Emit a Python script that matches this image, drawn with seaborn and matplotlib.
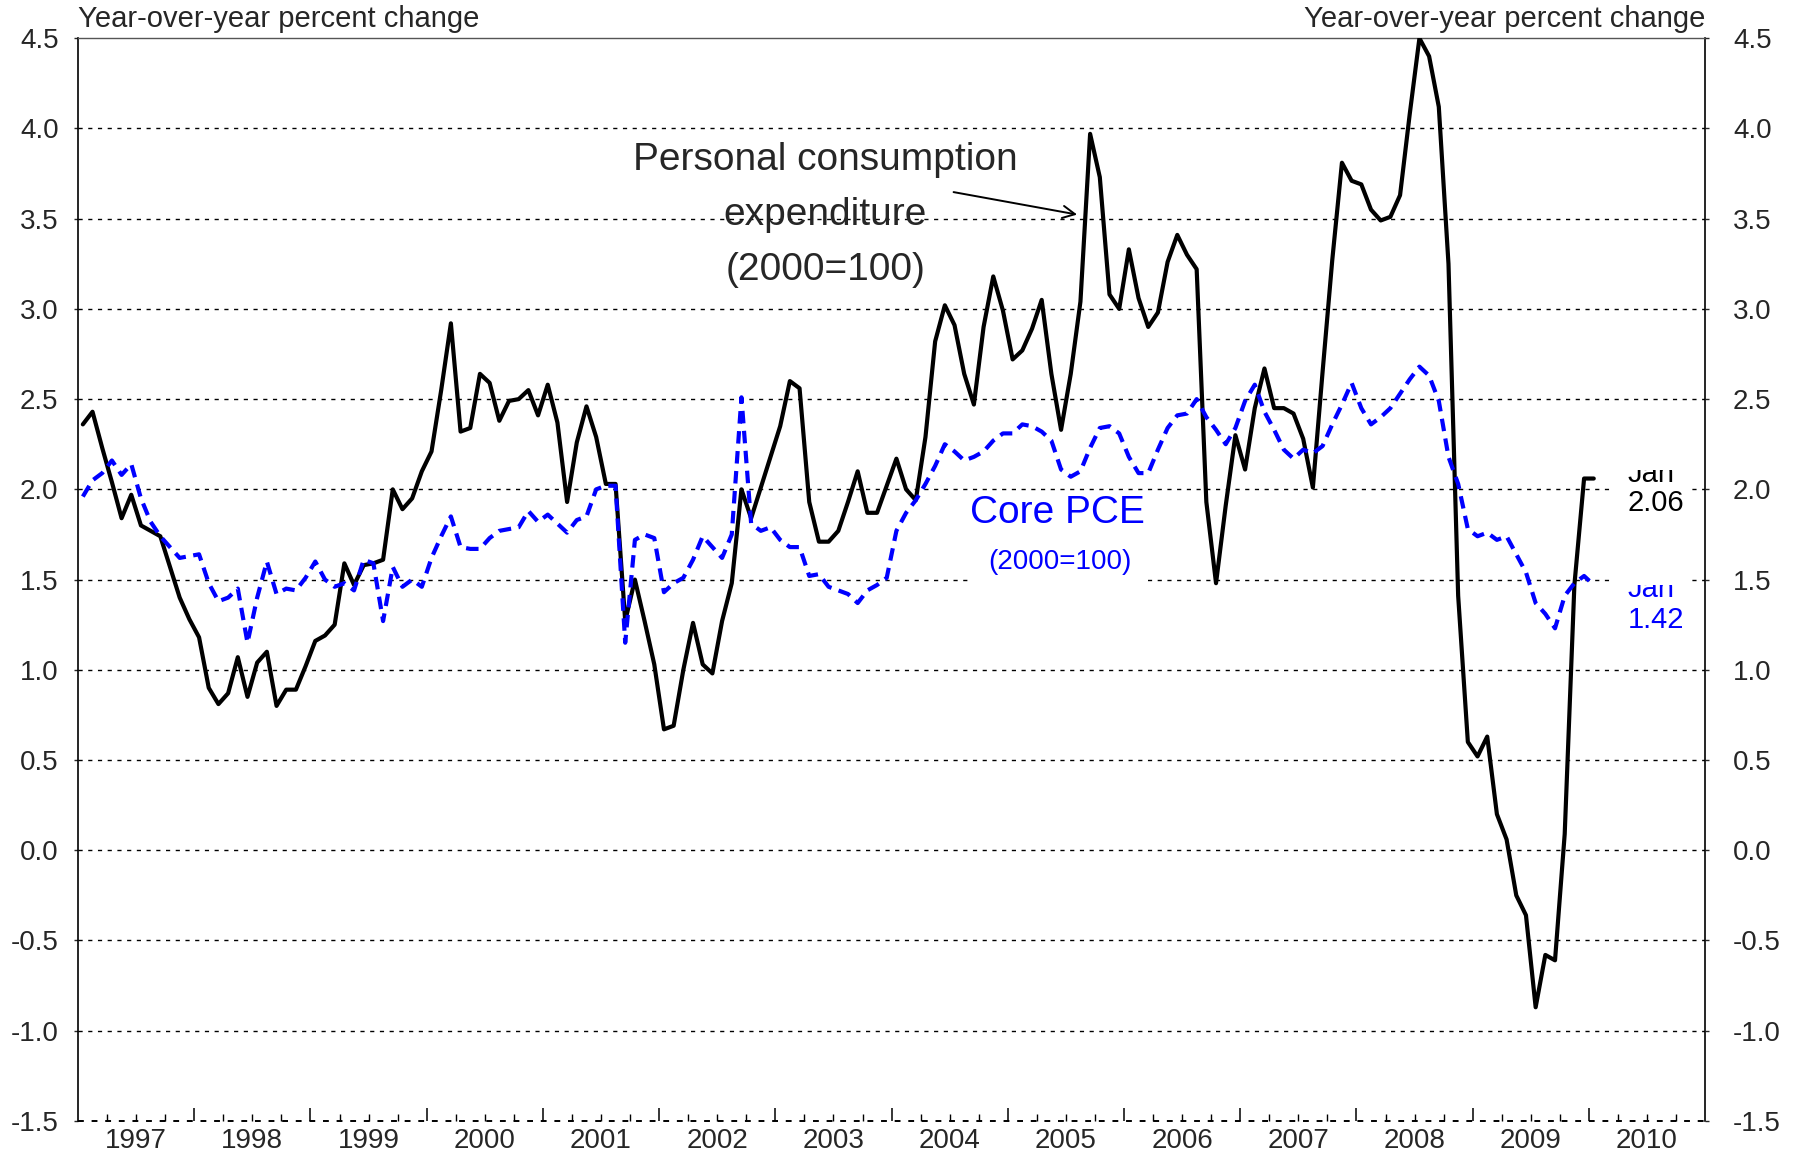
import numpy as np
import pandas as pd
import matplotlib
matplotlib.use("Agg")
import matplotlib.pyplot as plt
import seaborn as sns
from matplotlib.patches import Rectangle
from matplotlib.transforms import blended_transform_factory

# Monthly year-over-year % change, Jan 1997 .. Jan 2010
start_year = 1997
pce = [
    2.36, 2.43, 2.23, 2.04, 1.84, 1.97, 1.80, 1.77, 1.74, 1.57, 1.40, 1.28,   # 1997
    1.18, 0.90, 0.81, 0.87, 1.07, 0.85, 1.04, 1.10, 0.80, 0.89, 0.89, 1.02,   # 1998
    1.16, 1.19, 1.25, 1.59, 1.47, 1.58, 1.59, 1.61, 2.00, 1.89, 1.95, 2.10,   # 1999
    2.21, 2.55, 2.92, 2.32, 2.34, 2.64, 2.59, 2.38, 2.49, 2.50, 2.55, 2.41,   # 2000
    2.58, 2.37, 1.93, 2.26, 2.46, 2.29, 2.03, 2.03, 1.27, 1.50, 1.27, 1.03,   # 2001
    0.67, 0.69, 1.00, 1.26, 1.03, 0.98, 1.27, 1.48, 2.00, 1.84, 2.01, 2.18,   # 2002
    2.35, 2.60, 2.56, 1.93, 1.71, 1.71, 1.77, 1.93, 2.10, 1.87, 1.87, 2.02,   # 2003
    2.17, 2.00, 1.94, 2.29, 2.82, 3.02, 2.91, 2.64, 2.47, 2.90, 3.18, 2.99,   # 2004
    2.72, 2.77, 2.89, 3.05, 2.64, 2.33, 2.64, 3.04, 3.97, 3.73, 3.08, 3.00,   # 2005
    3.33, 3.06, 2.90, 2.98, 3.26, 3.41, 3.30, 3.22, 1.93, 1.48, 1.91, 2.30,   # 2006
    2.11, 2.45, 2.67, 2.45, 2.45, 2.42, 2.28, 2.01, 2.65, 3.27, 3.81, 3.71,   # 2007
    3.69, 3.55, 3.49, 3.51, 3.63, 4.08, 4.50, 4.40, 4.12, 3.25, 1.41, 0.60,   # 2008
    0.52, 0.63, 0.20, 0.06, -0.25, -0.36, -0.87, -0.58, -0.61, 0.09, 1.47, 2.06,  # 2009
    2.06,                                                                       # 2010
]
core = [
    1.96, 2.05, 2.09, 2.16, 2.08, 2.14, 1.95, 1.82, 1.74, 1.68, 1.62, 1.63,   # 1997
    1.64, 1.48, 1.38, 1.40, 1.45, 1.15, 1.40, 1.60, 1.42, 1.45, 1.44, 1.51,   # 1998
    1.60, 1.50, 1.46, 1.48, 1.44, 1.61, 1.59, 1.27, 1.57, 1.46, 1.50, 1.46,   # 1999
    1.62, 1.74, 1.85, 1.68, 1.67, 1.67, 1.73, 1.77, 1.78, 1.79, 1.88, 1.82,   # 2000
    1.86, 1.81, 1.76, 1.83, 1.85, 2.00, 2.02, 2.02, 1.15, 1.72, 1.75, 1.73,   # 2001
    1.43, 1.48, 1.51, 1.61, 1.74, 1.68, 1.62, 1.75, 2.51, 1.81, 1.77, 1.79,   # 2002
    1.72, 1.68, 1.68, 1.52, 1.53, 1.46, 1.44, 1.42, 1.37, 1.44, 1.47, 1.51,   # 2003
    1.77, 1.87, 1.94, 2.03, 2.13, 2.25, 2.21, 2.16, 2.18, 2.21, 2.27, 2.31,   # 2004
    2.31, 2.36, 2.35, 2.32, 2.27, 2.11, 2.07, 2.10, 2.23, 2.34, 2.35, 2.31,   # 2005
    2.18, 2.09, 2.09, 2.22, 2.34, 2.41, 2.42, 2.50, 2.40, 2.33, 2.25, 2.34,   # 2006
    2.49, 2.58, 2.43, 2.33, 2.22, 2.17, 2.22, 2.20, 2.24, 2.36, 2.47, 2.59,   # 2007
    2.45, 2.36, 2.40, 2.45, 2.53, 2.61, 2.68, 2.63, 2.49, 2.18, 2.03, 1.78,   # 2008
    1.74, 1.76, 1.72, 1.74, 1.64, 1.54, 1.37, 1.31, 1.23, 1.41, 1.48, 1.52,   # 2009
    1.47,                                                                       # 2010
]
year_labels = [str(y) for y in range(1997, 2011)]
y_ticks = [-1.5, -1.0, -0.5, 0.0, 0.5, 1.0, 1.5, 2.0, 2.5, 3.0, 3.5, 4.0, 4.5]
last_pce_label = "2.06"
last_core_label = "1.42"

sns.set_style("white")
plt.rcParams["font.family"] = ["Liberation Sans", "DejaVu Sans"]
plt.rcParams["axes.unicode_minus"] = False

n = len(pce)
xs = start_year + (np.arange(n) + 0.5) / 12.0
df = pd.DataFrame({"date": xs, "pce": pce, "core": core[:n]})

fig = plt.figure(figsize=(17.93, 11.58), dpi=100)
ax = fig.add_axes([0.0435, 0.032, 0.9075, 0.935])

# gridlines
for v in y_ticks:
    if v == 4.5:
        continue
    ax.axhline(v, color="black", lw=1.0 if v > -1.5 else 1.4, linestyle=(0, (3.0, 4.0)),
               zorder=1, clip_on=False)

sns.lineplot(data=df, x="date", y="pce", color="black", lw=3.0, ax=ax, zorder=4)
sns.lineplot(data=df, x="date", y="core", color="#0000ff", lw=3.0, ax=ax, zorder=5)
ax.lines[-1].set_linestyle((0, (3.0, 1.8)))

ax.set_xlim(1997, 2011)
ax.set_ylim(-1.5, 4.5)
ax.set_xlabel("")
ax.set_ylabel("")

ax.spines["bottom"].set_visible(False)
ax.spines["top"].set_color("#555555")
ax.spines["top"].set_linewidth(1.0)
for s in ["left", "right"]:
    ax.spines[s].set_color("black")
    ax.spines[s].set_linewidth(1.2)

# x ticks
ax.set_xticks(list(range(1998, 2011)))
ax.set_xticks([y + q / 4 for y in range(1997, 2011) for q in (1, 2, 3)], minor=True)
ax.tick_params(axis="x", which="major", direction="in", length=9.5, width=1.1, color="black",
               bottom=True, labelbottom=False)
ax.tick_params(axis="x", which="minor", direction="in", length=5, width=1, color="black",
               bottom=True, labelbottom=False)
trans = blended_transform_factory(ax.transData, fig.transFigure)
for i, lab in enumerate(year_labels):
    ax.text(1997 + i + 0.5, 0.0147, lab, transform=trans, ha="center", va="center", fontsize=20)

# y ticks both sides
ylabs = [f"{v:.1f}" for v in y_ticks]
ax.set_yticks(y_ticks)
ax.set_yticklabels(ylabs)
ax.tick_params(axis="y", direction="out", length=3, width=1, left=True, labelsize=20, pad=11)
ax2 = ax.twinx()
ax2.set_ylim(-1.5, 4.5)
ax2.set_yticks(y_ticks)
ax2.set_yticklabels(ylabs)
ax2.tick_params(axis="y", direction="out", length=3, width=1, labelsize=20, pad=17)
for s in ["top", "bottom", "left", "right"]:
    ax2.spines[s].set_visible(False)

# axis titles
fig.text(0.0435, 0.984, "Year-over-year percent change", ha="left", va="center", fontsize=21)
fig.text(0.951, 0.984, "Year-over-year percent change", ha="right", va="center", fontsize=21)

# annotations
ax.text(2003.43, 3.52, "Personal consumption\nexpenditure\n(2000=100)", ha="center", va="center",
        fontsize=28, linespacing=1.69, zorder=6)
ax.annotate("", xy=(2005.62, 3.52), xytext=(2004.51, 3.65),
            arrowprops=dict(arrowstyle="->", lw=1.4, color="black", mutation_scale=22), zorder=6)
ax.text(2005.45, 1.60, "(2000=100)", ha="center", va="center", fontsize=20, color="#0000ff",
        zorder=6, bbox=dict(facecolor="white", edgecolor="none", pad=12))
ax.text(2005.43, 1.87, "Core PCE", ha="center", va="center", fontsize=28, color="#0000ff", zorder=7)

# end-point labels
ax.add_patch(Rectangle((2010.19, 1.80), 0.69, 0.307, facecolor="white", edgecolor="none", zorder=2.5))
ax.add_patch(Rectangle((2010.19, 1.15), 0.69, 0.37, facecolor="white", edgecolor="none", zorder=2.5))
clip_b = Rectangle((2010.0, 1.0), 1.0, 1.107, transform=ax.transData)
t1 = ax.text(2010.33, 2.042, "Jan", ha="left", va="baseline", fontsize=21, color="black",
             zorder=6, clip_on=True)
t1.set_clip_path(clip_b)
ax.text(2010.33, 1.924, last_pce_label, ha="left", va="center", fontsize=21, color="black", zorder=6)
clip_c = Rectangle((2010.0, 0.5), 1.0, 0.97, transform=ax.transData)
t2 = ax.text(2010.33, 1.403, "Jan", ha="left", va="baseline", fontsize=21, color="#0000ff",
             zorder=6, clip_on=True)
t2.set_clip_path(clip_c)
ax.text(2010.33, 1.276, last_core_label, ha="left", va="center", fontsize=21, color="#0000ff", zorder=6)

fig.savefig("out.png", dpi=100)
